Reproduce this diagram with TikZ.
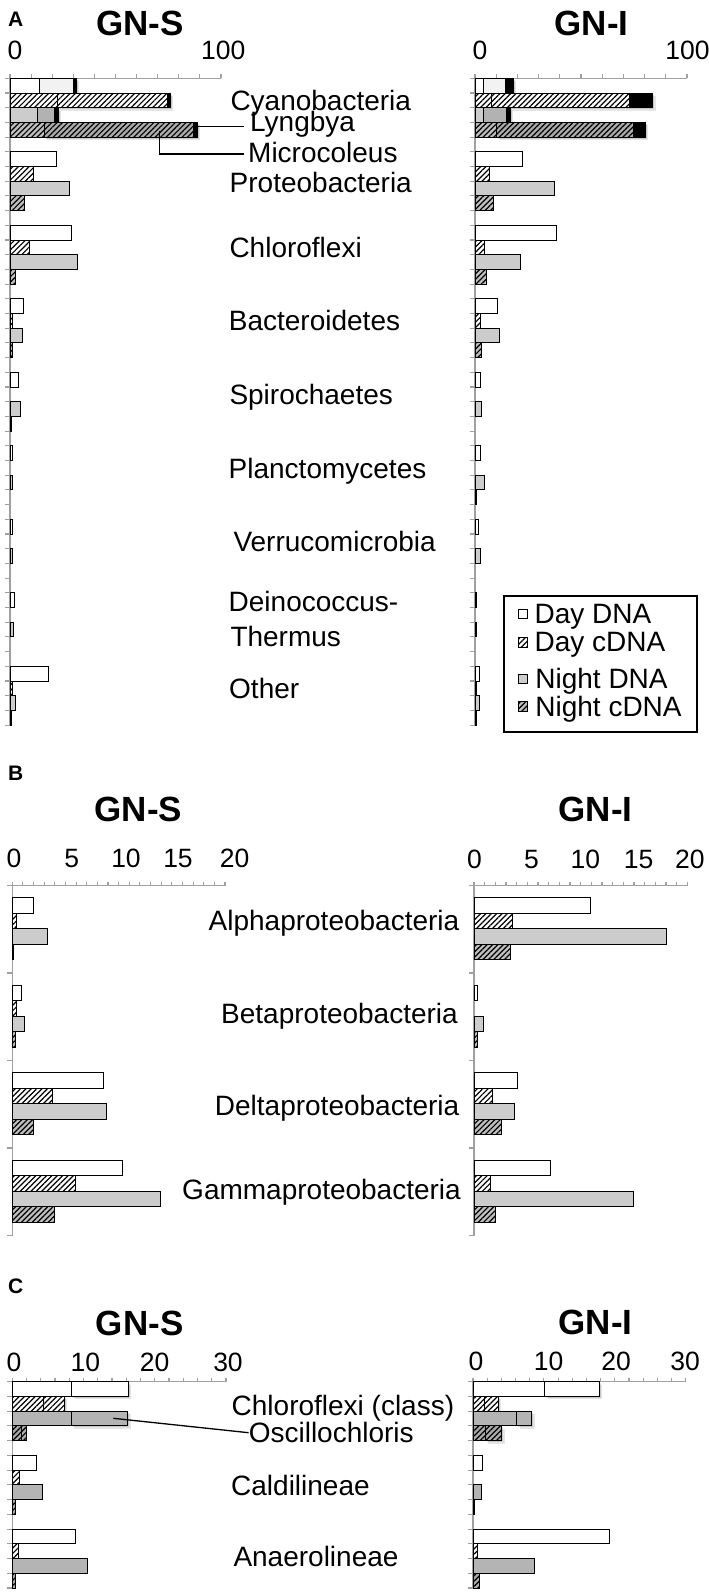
\documentclass[tikz,border=0pt]{standalone}
\usepackage{fontspec}
\setmainfont{Liberation Sans}
\usetikzlibrary{patterns.meta}
\definecolor{axg}{HTML}{A0A0A0}
\definecolor{ngtA}{HTML}{CCCCCC}
\definecolor{ngtC}{HTML}{B4B4B4}
\definecolor{nctA}{HTML}{BEBEBE}
\definecolor{nctC}{HTML}{AAAAAA}
\definecolor{lgt}{HTML}{F2F2F2}
\definecolor{mgt}{HTML}{B2B2B2}
\definecolor{dgt}{HTML}{ABABAB}
\def\ndc{ngtA}
\def\ncc{nctA}
\def\bh{14.7}
\tikzset{
  bx/.style={draw=black, line width=0.9pt},
  hatch/.style={pattern={Lines[angle=45,distance=3.8pt,line width=1.2pt]}},
  dd/.style={bx, fill=white},
  dc/.style={bx, preaction={fill=white}, hatch},
  nd/.style={bx, fill=\ndc},
  nc/.style={bx, preaction={fill=\ncc}, hatch},
  nctwo/.style={bx, preaction={fill=dgt}, hatch},
  blk/.style={bx, fill=black},
  ax/.style={draw=axg, line width=1.1pt},
  conn/.style={draw=black, line width=1.3pt},
  lab/.style={inner sep=0pt, font=\fontsize{28}{30}\selectfont},
  num/.style={inner sep=0pt, font=\fontsize{26.5}{28}\selectfont, anchor=base},
  ttl/.style={inner sep=0pt, font=\fontsize{35}{38}\selectfont\bfseries, anchor=base},
  pl/.style={inner sep=0pt, font=\fontsize{21}{22}\selectfont\bfseries, anchor=base west},
}
% bar: style, x0, x1, ytop
\newcommand{\brr}[4]{\ifdim #3pt>#2pt\relax \path[#1] (#2,{#4}) rectangle (#3,{#4+\bh});\fi}
% group of four bars: x0, ytop, e1..e4
\newcommand{\grp}[6]{%
  \pgfmathsetmacro\gya{#2}\pgfmathsetmacro\gyb{#2+\bh}%
  \pgfmathsetmacro\gyc{#2+2*\bh}\pgfmathsetmacro\gyd{#2+3*\bh}%
  \brr{dd}{#1}{#3}{\gya}\brr{dc}{#1}{#4}{\gyb}\brr{nd}{#1}{#5}{\gyc}\brr{nc}{#1}{#6}{\gyd}}
% soft shadow: x0, x1, ytop
\newcommand{\shd}[3]{%
  \fill[black,opacity=.13] ({#1+1.5},{#3+1.5}) rectangle ({#2+1.5},{#3+\bh+1.5});
  \fill[black,opacity=.10] ({#1+3},{#3+3}) rectangle ({#2+3},{#3+\bh+3});}
% horizontal axis: x0, x1, y, count
\newcommand{\hax}[4]{\draw[ax] (#1,#3) -- (#2,#3);
  \pgfmathsetmacro\hstep{(#2-#1)/#4}%
  \foreach \i in {0,...,#4}{\draw[ax] ({#1+\i*\hstep},#3) -- ({#1+\i*\hstep},{#3-4});}}
% vertical axis: x, ytop, ybot, count
\newcommand{\vax}[4]{\draw[ax] (#1,#2) -- (#1,#3);
  \pgfmathsetmacro\vstep{(#3-#2)/#4}%
  \foreach \i in {0,...,#4}{\draw[ax] (#1,{#2+\i*\vstep}) -- ({#1-5},{#2+\i*\vstep});}}
\begin{document}
\begin{tikzpicture}[x=1pt,y=-1pt]
\useasboundingbox (0,0) rectangle (709,1593);
\fill[white] (0,0) rectangle (709,1593);
% ================= Panel A
\node[pl] (pA) at (8,26.7) {A};
\node[ttl] (tAS) at (140,35) {GN-S};
\node[ttl] (tAI) at (591.7,35) {GN-I};
\node[num] (nAS0) at (15,59.3) {0};
\node[num] (nAS1) at (223.3,59.3) {100};
\node[num] (nAI0) at (480,59.3) {0};
\node[num] (nAI1) at (687.5,59.3) {100};
\hax{10}{221}{78.3}{10}
\hax{475}{687}{78.3}{10}
\vax{10}{78.3}{725.1}{44}
\vax{475}{78.3}{725.1}{44}
% Cyanobacteria GN-S
\brr{dd}{10}{39}{78.3}\shd{39}{76}{78.3}\brr{dd,fill=lgt}{39}{73}{78.3}\brr{blk}{73}{76}{78.3}
\brr{dc}{10}{57}{93}\shd{57}{170}{93}\brr{dc}{57}{167}{93}\brr{blk}{167}{170}{93}
\brr{nd}{10}{37}{107.7}\shd{37}{58}{107.7}\brr{nd,fill=mgt}{37}{54}{107.7}\brr{blk}{54}{58}{107.7}
\brr{nc}{10}{44}{122.4}\shd{44}{197}{122.4}\brr{nctwo}{44}{193}{122.4}\brr{blk}{193}{197}{122.4}
% Cyanobacteria GN-I
\brr{dd}{475}{483.3}{78.3}\shd{483.3}{513.3}{78.3}\brr{dd,fill=lgt}{483.3}{505}{78.3}\brr{blk}{505}{513.3}{78.3}
\brr{dc}{475}{491.7}{93}\shd{491.7}{652.7}{93}\brr{dc}{491.7}{629.3}{93}\brr{blk}{629.3}{652.7}{93}
\brr{nd}{475}{483.3}{107.7}\shd{483.3}{510}{107.7}\brr{nd,fill=mgt}{483.3}{506}{107.7}\brr{blk}{506}{510}{107.7}
\brr{nc}{475}{496.7}{122.4}\shd{496.7}{645}{122.4}\brr{nctwo}{496.7}{633.3}{122.4}\brr{blk}{633.3}{645}{122.4}
% other phyla GN-S
\grp{10}{151.8}{56.7}{33.3}{69}{24}
\grp{10}{225.3}{71}{29.3}{77.3}{15.7}
\grp{10}{298.8}{23.3}{12.7}{22.3}{12.7}
\grp{10}{372.3}{18.3}{10}{20}{11}
\grp{10}{445.8}{12.3}{10}{12.7}{10}
\grp{10}{519.3}{12}{10}{12.7}{10}
\grp{10}{592.8}{14.3}{10}{13.3}{10}
\grp{10}{666.3}{48.3}{12.5}{15}{11}
% other phyla GN-I
\grp{475}{151.8}{522.3}{489.3}{554}{493.3}
\grp{475}{225.3}{556.7}{484}{520}{486.7}
\grp{475}{298.8}{497.3}{480}{499.3}{481.7}
\grp{475}{372.3}{480}{475}{481.7}{475}
\grp{475}{445.8}{480}{475}{484.3}{476.7}
\grp{475}{519.3}{478.7}{475}{480.7}{475}
\grp{475}{592.8}{476}{475}{476.7}{475}
\grp{475}{666.3}{479.3}{476}{479}{476}
% labels A
\node[lab,anchor=base west] (lCy) at (230.3,110) {Cyanobacteria};
\node[lab,anchor=base west] (lLy) at (250,131.7) {Lyngbya};
\node[lab,anchor=base west] (lMi) at (248,162.7) {Microcoleus};
\node[lab,anchor=base west] (lPr) at (229.5,192.7) {Proteobacteria};
\node[lab,anchor=base west] (lCh) at (229.3,257.3) {Chloroflexi};
\node[lab,anchor=base west] (lBa) at (228.7,330.7) {Bacteroidetes};
\node[lab,anchor=base west] (lSp) at (229.3,404) {Spirochaetes};
\node[lab,anchor=base west] (lPl) at (228.5,478.3) {Planctomycetes};
\node[lab,anchor=base west] (lVe) at (233.3,551.7) {Verrucomicrobia};
\node[lab,anchor=base west] (lDe) at (228.5,611.7) {Deinococcus-};
\node[lab,anchor=base west] (lTh) at (230.3,646.7) {Thermus};
\node[lab,anchor=base west] (lOt) at (229,698) {Other};
\coordinate (lyA) at (197,126.7);
\coordinate (lyB) at (244.3,126.7);
\draw[conn] (lyA) -- (lyB);
\coordinate (miA) at (159.3,130.5);
\coordinate (miB) at (244.3,154);
\draw[conn] (miA) |- (miB);
% legend
\node[draw=black, line width=2pt, inner sep=0pt, minimum width=192.5pt, minimum height=135.5pt, anchor=north west] (leg) at (503,595) {};
\path[dd] (518.3,609.3) rectangle (527.3,618.8);
\path[dc] (518.3,637.7) rectangle (527.3,647.2);
\path[nd] (518.3,674.3) rectangle (527.3,683.8);
\path[nc] (518.3,701.7) rectangle (527.3,711.2);
\node[lab,anchor=base west] (lgDD) at (534.5,623.3) {Day DNA};
\node[lab,anchor=base west] (lgDC) at (534.5,651) {Day cDNA};
\node[lab,anchor=base west] (lgND) at (535.2,688.3) {Night DNA};
\node[lab,anchor=base west] (lgNC) at (535.2,716.7) {Night cDNA};
% ================= Panel B
\def\bh{15.6}
\node[pl] (pB) at (8,780) {B};
\node[ttl] (tBS) at (138.3,821.7) {GN-S};
\node[ttl] (tBI) at (595.7,821.7) {GN-I};
\node[num] (nBS0) at (14,867) {0};
\node[num] (nBS1) at (71.7,867) {5};
\node[num] (nBS2) at (126,867) {10};
\node[num] (nBS3) at (178,867) {15};
\node[num] (nBS4) at (234.7,867) {20};
\node[num] (nBI0) at (474.5,868) {0};
\node[num] (nBI1) at (531.5,868) {5};
\node[num] (nBI2) at (585.3,868) {10};
\node[num] (nBI3) at (638.5,868) {15};
\node[num] (nBI4) at (689.8,868) {20};
\hax{12.3}{225}{885.5}{20}
\hax{474}{687.3}{885.5}{20}
\vax{12.3}{885.5}{1235.5}{4}
\vax{474}{885.5}{1235.5}{4}
\grp{12.3}{897.5}{33.3}{16}{47.7}{13.3}
\grp{12.3}{985}{21}{16}{24}{15.7}
\grp{12.3}{1072.5}{103.3}{52.3}{106.7}{33.3}
\grp{12.3}{1160}{122.7}{75}{160}{54}
\grp{474}{897.5}{590.7}{512.3}{666.7}{510.7}
\grp{474}{985}{477.3}{474}{483.3}{477.3}
\grp{474}{1072.5}{517.3}{492.3}{514.7}{501.3}
\grp{474}{1160}{550.7}{490.7}{633}{495.7}
\node[lab,anchor=base east] (lAl) at (459.5,930.7) {Alphaproteobacteria};
\node[lab,anchor=base east] (lBe) at (458,1023) {Betaproteobacteria};
\node[lab,anchor=base east] (lDl) at (459.5,1115.5) {Deltaproteobacteria};
\node[lab,anchor=base east] (lGa) at (461,1199.3) {Gammaproteobacteria};
% ================= Panel C
\def\bh{14.74}
\def\ndc{ngtC}\def\ncc{nctC}
\node[pl] (pC) at (8,1293.3) {C};
\node[ttl] (tCS) at (139.7,1335) {GN-S};
\node[ttl] (tCI) at (595.7,1334) {GN-I};
\node[num] (nCS0) at (14,1371.7) {0};
\node[num] (nCS1) at (85.3,1371.7) {10};
\node[num] (nCS2) at (154.7,1371.7) {20};
\node[num] (nCS3) at (228,1371.7) {30};
\node[num] (nCI0) at (476,1370) {0};
\node[num] (nCI1) at (548.7,1370) {10};
\node[num] (nCI2) at (616.2,1370) {20};
\node[num] (nCI3) at (685.2,1370) {30};
\hax{12.3}{226}{1381.7}{15}
\hax{473}{685.7}{1381.7}{15}
\vax{12.3}{1381.7}{1588}{14}
\vax{473}{1381.7}{1588}{14}
% Chloroflexi (class) GN-S
\brr{dd}{12.3}{71.7}{1381.7}\shd{71.7}{128.3}{1381.7}\brr{dd}{71.7}{128.3}{1381.7}
\brr{dc}{12.3}{43.3}{1396.44}\shd{43.3}{64.3}{1396.44}\brr{dc}{43.3}{64.3}{1396.44}
\brr{nd}{12.3}{71}{1411.18}\shd{71}{127.7}{1411.18}\brr{nd}{71}{127.7}{1411.18}
\brr{nc}{12.3}{21.7}{1425.92}\brr{nc}{21.7}{26}{1425.92}
% Chloroflexi (class) GN-I
\brr{dd}{473}{544.7}{1381.7}\shd{544.7}{599}{1381.7}\brr{dd}{544.7}{599}{1381.7}
\brr{dc}{473}{484}{1396.44}\shd{484}{498.3}{1396.44}\brr{dc}{484}{498.3}{1396.44}
\brr{nd}{473}{516.7}{1411.18}\shd{516.7}{531.7}{1411.18}\brr{nd}{516.7}{531.7}{1411.18}
\brr{nc}{473}{485}{1425.92}\shd{485}{501.7}{1425.92}\brr{nc}{485}{501.7}{1425.92}
\grp{12.3}{1455.4}{36}{19}{42.3}{15}
\grp{12.3}{1529.1}{75}{18.3}{87.7}{15}
\grp{473}{1455.4}{482.3}{473}{481.3}{474.5}
\grp{473}{1529.1}{609.7}{477.3}{534}{479}
\node[lab,anchor=base west] (lCc) at (231.5,1415) {Chloroflexi (class)};
\node[lab,anchor=base west] (lOs) at (248.6,1442.7) {Oscillochloris};
\node[lab,anchor=base west] (lCa) at (231,1495) {Caldilineae};
\node[lab,anchor=base west] (lAn) at (233.3,1566.7) {Anaerolineae};
\coordinate (osA) at (113.3,1418.3);
\draw[conn] (osA) -- (lOs.west);
\end{tikzpicture}
\end{document}
